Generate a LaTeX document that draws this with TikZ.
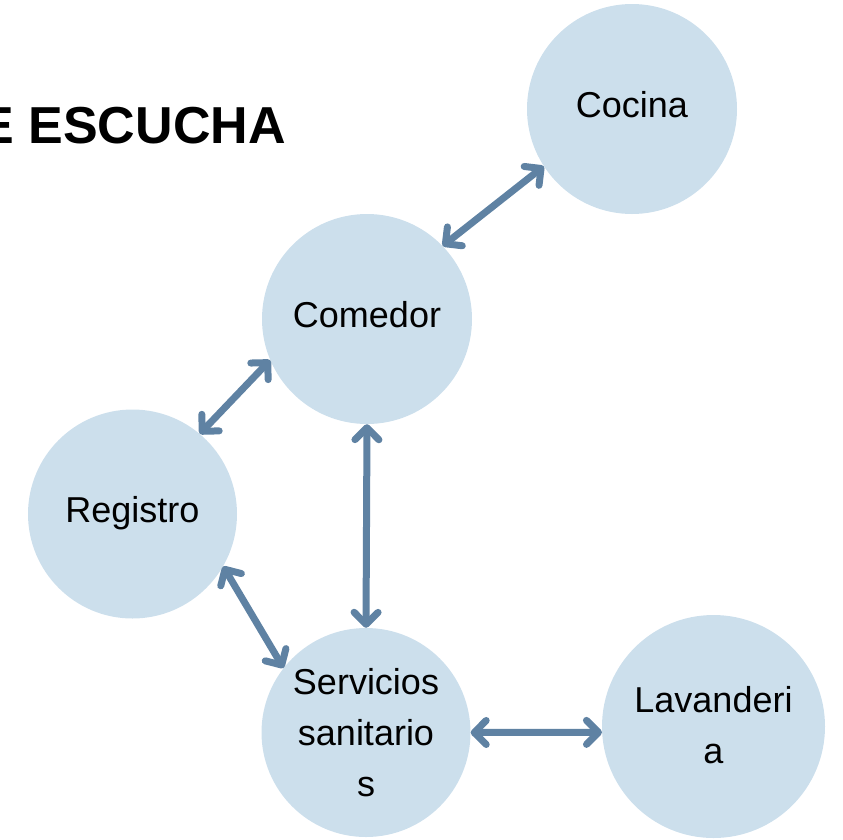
\documentclass[tikz,border=0pt]{standalone}
\usepackage{fontspec}
\setmainfont{Liberation Sans}
\usetikzlibrary{arrows.meta}
\definecolor{circfill}{HTML}{CCDFEC}
\definecolor{linkblue}{HTML}{5F82A3}

\begin{document}
\begin{tikzpicture}[x=1pt, y=-1pt,
        place/.style={circle, fill=circfill, minimum size=210pt, inner sep=0pt, align=center, text depth=10pt, font=\fontsize{36}{51}\selectfont},
        link/.style={{Straight Barb[length=12pt,width=24pt,round]}-{Straight Barb[length=12pt,width=24pt,round]}, line width=7pt, draw=linkblue, line cap=round}
    ]
        \useasboundingbox (0,0) rectangle (843,839);
        \node[anchor=base west, font=\bfseries\fontsize{52}{62}\selectfont] (titulo) at (-24,143) {E ESCUCHA};

        \node[place] (cocina) at (632,109) {Cocina};
        \node[place] (comedor) at (367,319) {Comedor};
        \node[place, minimum size=209pt] (registro) at (132.5,514) {Registro};
        \node[place, minimum size=209pt, text depth=0pt] (servicios) at (366,732.5) {Servicios\\sanitario\\s};
        \node[place, minimum size=223pt, text depth=4pt] (lavanderia) at (713.5,726.5) {Lavanderi\\a};

        \draw[link] (comedor.44.6) -- (cocina.213.5);
        \draw[link] (registro.50.5) -- (comedor.203);
        \draw[link] (comedor.south) -- (servicios.north);
        \draw[link] (registro.-30.4) -- (servicios.142);
        \draw[link] (servicios.east) -- (lavanderia.183);
    \end{tikzpicture}
\end{document}
